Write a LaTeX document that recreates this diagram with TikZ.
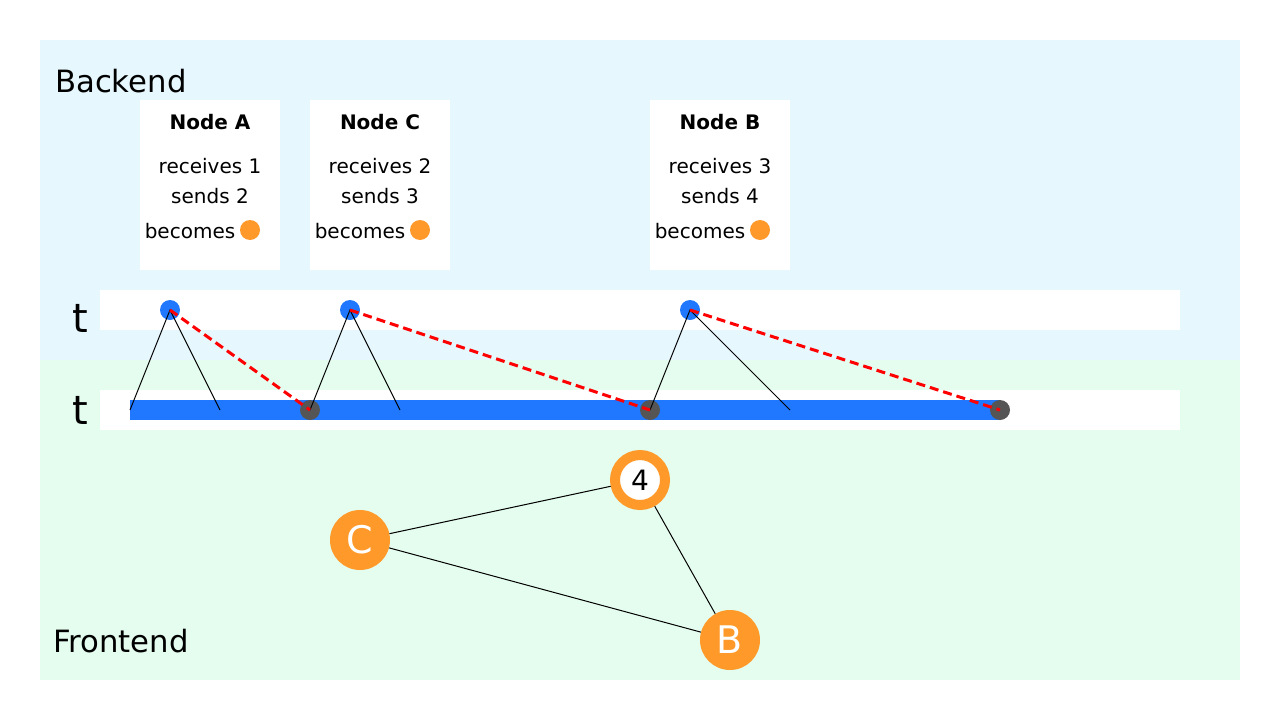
\documentclass[tikz,border=0pt]{standalone}
\usepackage{fontspec}
\setmainfont{DejaVu Sans}
\definecolor{bgblue}{RGB}{230,247,253}
\definecolor{bggreen}{RGB}{228,253,238}
\definecolor{dotblue}{RGB}{31,120,255}
\definecolor{dotgray}{RGB}{85,85,85}
\definecolor{orng}{RGB}{255,153,41}
\begin{document}
\begin{tikzpicture}[x=1pt,y=-1pt,
  bdot/.style={circle,fill=dotblue,minimum size=20pt,inner sep=0pt},
  gdot/.style={circle,fill=dotgray,minimum size=20pt,inner sep=0pt},
  odot/.style={circle,fill=orng,minimum size=20pt,inner sep=0pt},
  title/.style={font=\fontsize{20}{24}\selectfont\bfseries,inner sep=0pt},
  txt/.style={font=\fontsize{20}{24}\selectfont,inner sep=0pt},
  region/.style={anchor=west,inner sep=0pt,font=\fontsize{30.7}{36}\selectfont},
  big/.style={circle,fill=orng,minimum size=60pt,inner sep=0pt,text=white,font=\fontsize{38}{44}\selectfont},
  ring/.style={circle,fill=white,draw=orng,line width=10pt,minimum size=50pt,inner sep=0pt,font=\fontsize{28}{32}\selectfont},
  tick/.style={black,line width=1pt},
  msg/.style={red,line width=3pt,dash pattern=on 9pt off 5pt},
  edge/.style={black,line width=1pt}]
\useasboundingbox (0,0) rectangle (1280,720);
\fill[white] (0,0) rectangle (1280,720);
% regions
\fill[bgblue] (40,40) rectangle (1240,360);
\fill[bggreen] (40,360) rectangle (1240,680);
\node[region] (backend) at (55,81) {Backend};
\node[region] (frontend) at (53,641) {Frontend};
% strips
\fill[white] (100,290) rectangle (1180,330);
\fill[white] (100,390) rectangle (1180,430);
\node[inner sep=0pt,font=\fontsize{40}{46}\selectfont] (t1) at (80,318) {t};
\node[inner sep=0pt,font=\fontsize{40}{46}\selectfont] (t2) at (80,410) {t};
% cards
\foreach \x/\n/\r/\s in {140/A/1/2,310/C/2/3,650/B/3/4}{
  \fill[white] (\x,100) rectangle ++(140,170);
  \node[title] (title\n) at (\x+70,122) {Node \n};
  \node[txt] (rec\n) at (\x+70,166) {receives \r};
  \node[txt] (snd\n) at (\x+70,196) {sends \s};
  \node[txt] (bec\n) at (\x+50,231) {becomes};
  \node[odot] (od\n) at (\x+110,230) {};
}
% bar
\fill[dotblue] (130,400) rectangle (1000,420);
% dots
\node[bdot] (pA) at (170,310) {};
\node[bdot] (pC) at (350,310) {};
\node[bdot] (pB) at (690,310) {};
\node[gdot] (g1) at (310,410) {};
\node[gdot] (g2) at (650,410) {};
\node[gdot] (g3) at (1000,410) {};
\coordinate (a1) at (130,410);
\coordinate (a2) at (220,410);
\coordinate (c2) at (400,410);
\coordinate (b2) at (790,410);
% ticks
\draw[tick] (a1) -- (pA.center) -- (a2);
\draw[tick] (g1.center) -- (pC.center) -- (c2);
\draw[tick] (g2.center) -- (pB.center) -- (b2);
% messages
\draw[msg] (pA.center) -- (g1.center);
\draw[msg] (pC.center) -- (g2.center);
\draw[msg] (pB.center) -- (g3.center);
% graph
\node[big] (nC) at (360,540) {C};
\node[ring] (n4) at (640,480) {4};
\node[big] (nB) at (730,640) {B};
\draw[edge] (nC) -- (n4);
\draw[edge] (n4) -- (nB);
\draw[edge] (nC) -- (nB);
\end{tikzpicture}
\end{document}
